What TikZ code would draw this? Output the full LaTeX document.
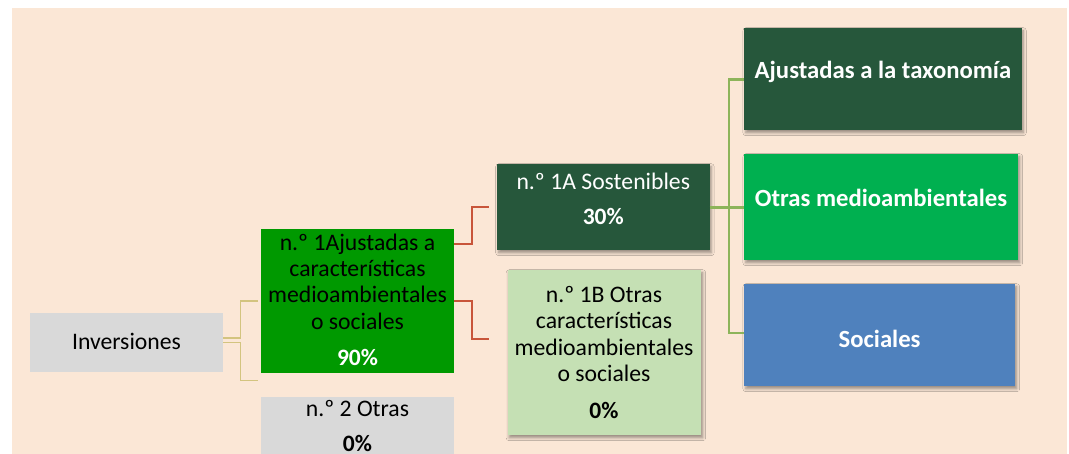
\documentclass[tikz,border=0pt]{standalone}
\usepackage{fontspec}
\setmainfont{Carlito}
\usetikzlibrary{shadows.blur}
\definecolor{bgbeige}{HTML}{FBE7D6}
\definecolor{dkgreen}{HTML}{26573B}
\definecolor{midgreen}{HTML}{009900}
\definecolor{brgreen}{HTML}{00B050}
\definecolor{socblue}{HTML}{4F81BD}
\definecolor{ltgreen}{HTML}{C5E0B4}
\definecolor{ltgray}{HTML}{D9D9D9}
\definecolor{yelline}{HTML}{D3C47F}
\definecolor{redline}{HTML}{C8553A}
\definecolor{grnline}{HTML}{8DB45A}
\begin{document}
\begin{tikzpicture}[x=1pt,y=-1pt,
  box/.style={draw=none,inner sep=0pt,anchor=north west},
  shad/.style={blur shadow={shadow xshift=1.5pt,shadow yshift=-2.5pt,shadow blur radius=3pt,shadow opacity=40}},
  lbl/.style={inner sep=0pt,anchor=base,font=\fontsize{23.7}{26}\selectfont},
  blbl/.style={lbl,font=\fontsize{23.5}{26}\selectfont\bfseries},
  hlbl/.style={lbl,text=white,font=\fontsize{24.7}{26}\selectfont\bfseries},
  yconn/.style={draw=yelline,line width=1.5pt},
  rconn/.style={draw=redline,line width=2pt},
  gconn/.style={draw=grnline,line width=2.6pt}]
\useasboundingbox (0,0) rectangle (1069,453);
\clip (0,0) rectangle (1069,453);
\fill[bgbeige] (12,8) rectangle (1067,460);
% boxes
\node[box,fill=ltgray,minimum width=193pt,minimum height=59pt] (inv) at (30,313) {};
\node[box,fill=midgreen,minimum width=193pt,minimum height=143.7pt] (g1) at (261,229) {};
\node[box,fill=ltgray,minimum width=193pt,minimum height=70pt] (n2) at (261,397) {};
\node[box,fill=dkgreen,shad,minimum width=212.5pt,minimum height=86pt] (s1a) at (497,164) {};
\node[box,fill=ltgreen,shad,minimum width=193.5pt,minimum height=165pt] (s1b) at (507.5,270) {};
\node[box,fill=dkgreen,shad,minimum width=277.4pt,minimum height=102pt] (taxo) at (744.2,28) {};
\node[box,fill=brgreen,shad,minimum width=273.8pt,minimum height=106pt] (otras) at (744.2,154) {};
\node[box,fill=socblue,shad,minimum width=270.8pt,minimum height=102pt] (soc) at (744.2,284) {};
% texts
\node[lbl] (tinv) at (126.5,349) {Inversiones};
\node[lbl] (tg1a) at (357.5,250) {n.º 1Ajustadas a};
\node[lbl] (tg1b) at (357.5,276.3) {características};
\node[lbl] (tg1c) at (357.5,302.6) {medioambientales};
\node[lbl] (tg1d) at (357.5,329) {o sociales};
\node[blbl,text=white] (tg1e) at (357.5,365.7) {90\%};
\node[lbl,text=white] (ts1aa) at (603.3,189) {n.º 1A Sostenibles};
\node[blbl,text=white] (ts1ab) at (603.3,224) {30\%};
\node[lbl] (ts1ba) at (604,302) {n.º 1B Otras};
\node[lbl] (ts1bb) at (604,328) {características};
\node[lbl] (ts1bc) at (604,355) {medioambientales};
\node[lbl] (ts1bd) at (604,381) {o sociales};
\node[blbl] (ts1be) at (604,418) {0\%};
\node[lbl] (tn2a) at (357.5,416) {n.º 2 Otras};
\node[blbl] (tn2b) at (357.5,451) {0\%};
\node[hlbl] (ttaxo) at (882.9,78) {Ajustadas a la taxonomía};
\node[hlbl] (totras) at (881,206.7) {Otras medioambientales};
\node[hlbl] (tsoc) at (879.6,347) {Sociales};
% connectors
\draw[yconn] ([yshift=4.8pt]inv.east) -- ++(17,0) |- ([xshift=-3.3pt]g1.west);
\draw[yconn] (inv.east) -- ++(17,0) |- ([shift={(-3.3,7.3)}]g1.south west);
\draw[rconn] ([yshift=-15pt]g1.north east) -- ++(17.5,0) |- ([xshift=-8pt]s1a.west);
\draw[rconn] (g1.east) -- ++(17.5,0) |- ([shift={(-18.5,-14.2)}]s1b.west);
\draw[gconn] (s1a.east) -- ++(19.2,0) |- (taxo.west);
\draw[gconn] (s1a.east) -- ++(19.2,0) |- (otras.west);
\draw[gconn] (s1a.east) -- ++(19.2,0) |- ([yshift=2.3pt]soc.west);
\end{tikzpicture}
\end{document}
